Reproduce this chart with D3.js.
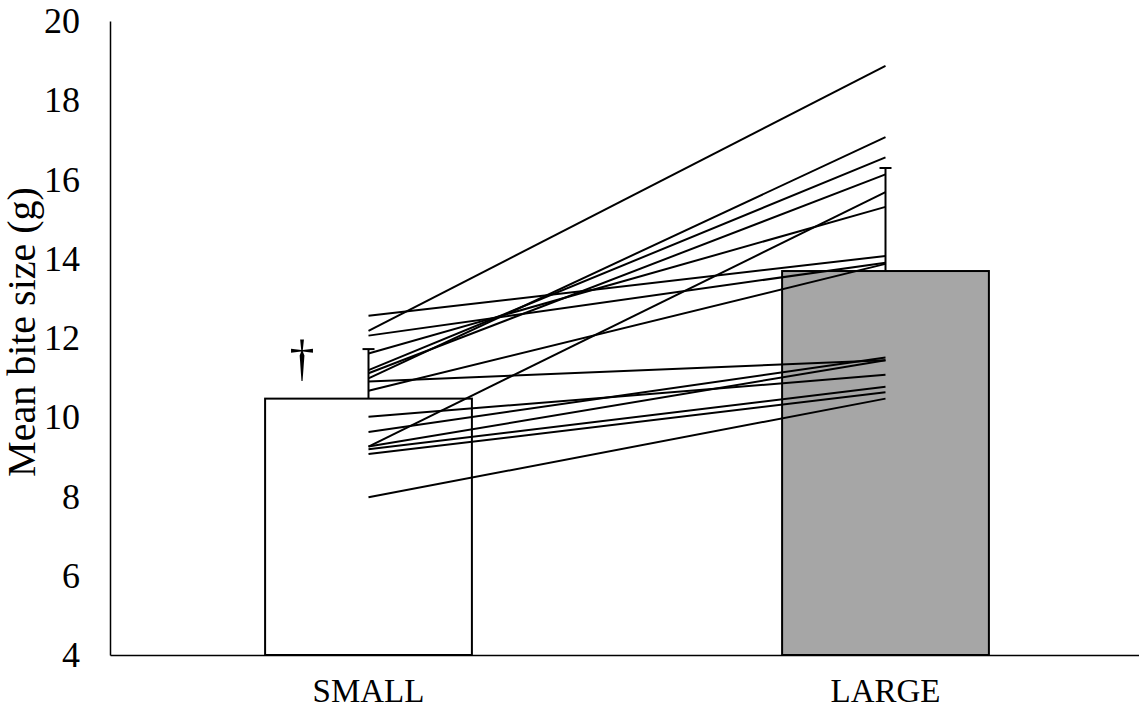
<!DOCTYPE html>
<html>
<head>
<meta charset="utf-8">
<script src="https://cdn.jsdelivr.net/npm/d3@7"></script>
<style>
  html, body { margin: 0; padding: 0; background: #fff; }
  svg { display: block; }
</style>
</head>
<body>
<svg id="chart" width="1139" height="713" font-family="Liberation Serif"></svg>
<script>
// ---- data ----
const categories = ["SMALL", "LARGE"];
const barMeans = [10.47, 13.69];
const barErrors = [1.25, 2.60];
const barFills = ["#ffffff", "#a6a6a6"];
// individual subjects: value for SMALL and value for LARGE
const smallValues = [12.56, 12.18, 12.06, 11.61, 11.19, 11.11, 10.98, 10.67, 10.90, 10.01, 9.63, 9.26, 9.26, 9.19, 9.07, 7.98];
const largeValues = [14.07, 18.87, 13.90, 15.31, 16.56, 16.13, 17.07, 13.87, 11.44, 11.07, 11.51, 15.68, 11.44, 10.77, 10.63, 10.47];
const yTicks = [4, 6, 8, 10, 12, 14, 16, 18, 20];
const yLabel = "Mean bite size (g)";
const marker = "†";

// ---- layout ----
const FONT = "Liberation Serif";
const svg = d3.select("#chart");
const mLeft = 110, mRight = 1144, mTop = 21, mBottom = 655;

const x = d3.scaleBand().domain(categories).range([mLeft, mRight])
  .paddingInner(0.6).paddingOuter(0.3);
const y = d3.scaleLinear().domain([4, 20]).range([mBottom, mTop]);

// bars
svg.append("g").selectAll("rect").data(categories).join("rect")
  .attr("x", d => x(d))
  .attr("y", (d, i) => y(barMeans[i]))
  .attr("width", x.bandwidth())
  .attr("height", (d, i) => y(4) - y(barMeans[i]))
  .attr("fill", (d, i) => barFills[i])
  .attr("stroke", "#000")
  .attr("stroke-width", 2);

// error bars (upper only)
const eb = svg.append("g").attr("stroke", "#000").attr("stroke-width", 2);
categories.forEach((c, i) => {
  const cx = x(c) + x.bandwidth() / 2;
  eb.append("line").attr("x1", cx).attr("x2", cx)
    .attr("y1", y(barMeans[i])).attr("y2", y(barMeans[i] + barErrors[i]));
  eb.append("line").attr("x1", cx - 6).attr("x2", cx + 6)
    .attr("y1", y(barMeans[i] + barErrors[i])).attr("y2", y(barMeans[i] + barErrors[i]));
});

// subject lines
const cxS = x("SMALL") + x.bandwidth() / 2;
const cxL = x("LARGE") + x.bandwidth() / 2;
svg.append("g").selectAll("line").data(smallValues).join("line")
  .attr("x1", cxS).attr("x2", cxL)
  .attr("y1", d => y(d))
  .attr("y2", (d, i) => y(largeValues[i]))
  .attr("stroke", "#000").attr("stroke-width", 2);

// axes
const yAxis = svg.append("g").attr("transform", `translate(${mLeft},0)`)
  .call(d3.axisLeft(y).tickValues(yTicks).tickSize(0).tickPadding(30));
yAxis.attr("font-family", FONT).attr("font-size", 36);
yAxis.select(".domain").attr("stroke", "#000").attr("stroke-width", 1.5);
yAxis.selectAll("text").attr("font-family", FONT).attr("fill", "#000");

const xAxis = svg.append("g").attr("transform", `translate(0,${mBottom})`)
  .call(d3.axisBottom(x).tickSize(0).tickPadding(24));
xAxis.attr("font-family", FONT).attr("font-size", 33);
xAxis.select(".domain").attr("stroke", "#000").attr("stroke-width", 1.5);
xAxis.selectAll("text").attr("font-family", FONT).attr("fill", "#000");

// y label
svg.append("text")
  .attr("transform", `translate(35,332) rotate(-90)`)
  .attr("text-anchor", "middle")
  .attr("font-family", FONT)
  .attr("font-size", 40)
  .attr("fill", "#000")
  .text(yLabel);

// dagger marker
svg.append("text")
  .attr("x", x("SMALL") + 37)
  .attr("y", y(barMeans[0]) - 24)
  .attr("text-anchor", "middle")
  .attr("font-family", FONT)
  .attr("font-size", 50)
  .attr("fill", "#000")
  .text(marker);
</script>
</body>
</html>
